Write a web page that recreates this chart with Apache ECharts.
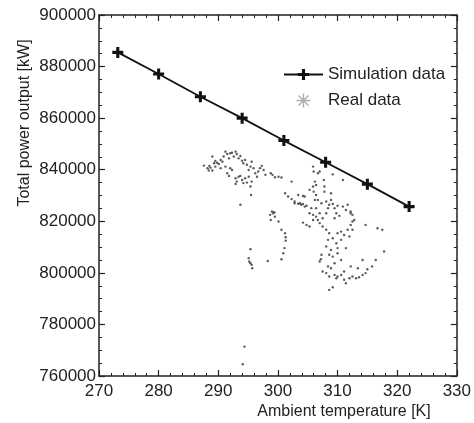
<!DOCTYPE html>
<html>
<head>
<meta charset="utf-8">
<script src="https://cdn.jsdelivr.net/npm/echarts@6/dist/echarts.min.js"></script>
<style>html,body{margin:0;padding:0;background:#fff;}#c{width:474px;height:423px;}</style>
</head>
<body>
<div id="c"></div>
<script>
// ---- data ----
const xTicks = [270, 280, 290, 300, 310, 320, 330];
const yTicks = [760000, 780000, 800000, 820000, 840000, 860000, 880000, 900000];
const simTemp = [273.15, 280, 287, 294, 301, 308, 315, 322];
const simPower = [885500, 877100, 868300, 860000, 851300, 842900, 834400, 825700];
const realTemp = [
287.6,288.2,288.4,288.7,289.0,289.3,289.5,289.8,290.1,290.4,290.7,290.9,291.2,291.5,291.8,292.0,292.3,292.6,292.9,293.1,
293.4,293.7,294.0,294.2,294.5,294.8,295.1,295.4,295.6,295.9,296.2,296.5,296.7,297.0,297.3,297.6,297.9,291.5,291.8,292.3,
292.9,293.1,293.4,293.7,294.0,294.2,294.5,294.8,295.1,295.4,295.6,292.9,292.0,291.2,290.4,289.5,289.0,288.5,293.7,295.5,
298.8,299.1,299.5,300.1,300.6,302.3,
301.2,301.7,302.3,302.8,303.4,303.9,304.5,
298.7,299.0,299.2,299.5,298.8,299.4,
300.1,300.6,301.2,301.3,301.3,301.1,300.9,300.6,298.3,
295.1,295.2,295.4,295.6,295.7,295.4,
294.4,294.1,
305.9,306.0,306.7,307.0,306.2,306.4,305.9,306.0,306.4,307.7,307.8,307.8,309.2,310.9,
303.7,304.2,304.8,305.6,305.3,305.9,306.4,304.2,304.8,305.3,305.9,306.7,307.0,307.5,308.1,308.4,308.6,308.9,309.2,309.5,
310.0,309.8,310.3,310.9,311.4,311.7,312.2,312.5,312.8,306.7,307.3,308.1,306.4,307.0,307.5,308.1,308.6,309.2,309.8,310.0,
310.6,311.1,311.7,312.2,312.5,312.0,311.4,308.4,308.1,308.9,308.6,309.2,309.5,308.9,308.4,308.1,308.6,309.5,309.8,310.0,
310.6,311.1,311.4,312.0,312.5,313.1,313.6,314.2,314.7,315.0,315.8,314.2,316.4,314.7,316.7,317.5,317.8,307.3,307.2,307.0,
308.6,309.2,307.5,311.1,312.2,313.4,310.6,310.0,310.0,312.2,312.5,310.6,308.9,309.5,306.2,304.2,302.8,303.4,305.3,304.5
];
const realPower = [
841600,840600,839700,840800,845100,842500,843400,842700,842200,843800,843100,845100,847000,846100,844400,846400,846600,845100,847000,846100,
844400,845300,843500,842500,843800,841900,839900,841200,843100,840600,838600,837300,839300,840600,841500,839900,838000,838600,837600,839900,
836700,835400,837300,837600,836000,834800,836700,835000,837300,833500,835400,834500,840600,841200,840600,841200,839700,841500,826400,830200,
838600,838000,837100,837300,837000,835400,
830900,829600,828600,827700,826800,826400,825700,
822500,823800,823100,821800,820500,823500,
819900,816700,815400,813800,812500,809600,807600,805300,804600,
805700,804400,803700,803100,801800,809200,
771400,764600,
841200,839300,838600,839300,835400,834100,833500,831500,830200,836000,833500,831500,838200,836000,
827000,826700,826000,825100,823100,822500,821800,819500,818600,818000,820500,820500,819300,821200,823100,825100,826400,828300,826700,825100,
826000,823100,822100,825700,824400,826400,823800,822500,820500,828300,827000,827700,825100,823100,818000,816700,815400,813400,811500,809600,
812800,814700,816700,818600,816700,814100,809600,812800,810200,808900,807000,806300,803700,801800,802500,799900,798600,799200,797900,798600,
799200,797300,796000,797900,798600,797900,798300,799200,799900,801400,802500,805000,805000,818600,817300,816700,808300,807000,805300,804400,
793400,794400,800500,800500,802500,801800,805000,807600,815400,823100,819900,816000,830900,821200,828300,829800,827000,830200,832200,829600
];
// ---- build ----
const simData = simTemp.map((t, i) => [t, simPower[i]]);
const realData = realTemp.map((t, i) => [t, realPower[i]]);
const plusPath = 'path://M3.6,0H6.4V3.6H10V6.4H6.4V10H3.6V6.4H0V3.6H3.6Z';
const starPath = 'path://M4.5,0H5.5V10H4.5Z M0,4.5H10V5.5H0Z M1.1,1.8L1.8,1.1L8.9,8.2L8.2,8.9Z M8.2,1.1L8.9,1.8L1.8,8.9L1.1,8.2Z';
const font = 'Liberation Sans, Arial, Helvetica, sans-serif';
const axCol = '#222';
function xAx(pos, showLabel) {
  return {
    type: 'value', position: pos, min: xTicks[0], max: xTicks[xTicks.length - 1], interval: 10,
    axisLine: { show: true, onZero: false, lineStyle: { color: axCol, width: 1.5 } },
    axisTick: { show: true, inside: true, length: 6, lineStyle: { color: axCol, width: 1.2 } },
    minorTick: { show: true, splitNumber: 5, length: 3, lineStyle: { color: axCol, width: 1 } },
    axisLabel: { show: showLabel, color: '#222', fontSize: 17, fontFamily: font, margin: 7 },
    splitLine: { show: false }
  };
}
function yAx(pos, showLabel) {
  return {
    type: 'value', position: pos, min: yTicks[0], max: yTicks[yTicks.length - 1], interval: 20000,
    axisLine: { show: true, onZero: false, lineStyle: { color: axCol, width: 1.5 } },
    axisTick: { show: true, inside: true, length: 6, lineStyle: { color: axCol, width: 1.2 } },
    minorTick: { show: true, splitNumber: 4, length: 3, lineStyle: { color: axCol, width: 1 } },
    axisLabel: { show: showLabel, color: '#222', fontSize: 17, fontFamily: font, margin: 3,
      formatter: v => String(v) },
    splitLine: { show: false }
  };
}
const chart = echarts.init(document.getElementById('c'), null, { renderer: 'canvas' });
chart.setOption({
  animation: false,
  backgroundColor: '#fff',
  grid: { left: 99, right: 14, top: 15, bottom: 47, containLabel: false },
  xAxis: [xAx('bottom', true), xAx('top', false)],
  yAxis: [yAx('left', true), yAx('right', false)],
  legend: {
    orient: 'vertical', left: 278, top: 61, itemWidth: 39, itemHeight: 14, itemGap: 9,
    textStyle: { color: '#222', fontSize: 17, fontFamily: font },
    data: [
      { name: 'Simulation data' },
      { name: 'Real data', icon: starPath, itemStyle: { color: '#999' } }
    ]
  },
  graphic: [
    { type: 'text', x: 25, y: 123, rotation: Math.PI / 2,
      style: { text: 'Total power output [kW]', fill: '#222', font: '16px ' + font, align: 'center', verticalAlign: 'middle' } },
    { type: 'text', x: 344, y: 412,
      style: { text: 'Ambient temperature [K]', fill: '#222', font: '16px ' + font, align: 'center', verticalAlign: 'middle' } }
  ],
  series: [
    {
      name: 'Simulation data', type: 'line', data: simData, xAxisIndex: 0, yAxisIndex: 0,
      symbol: plusPath, symbolSize: 11, showSymbol: true,
      lineStyle: { color: '#111', width: 1.8 },
      itemStyle: { color: '#111' }, z: 3
    },
    {
      name: 'Real data', type: 'scatter', data: realData, xAxisIndex: 0, yAxisIndex: 0,
      symbol: 'circle', symbolSize: 2.4,
      itemStyle: { color: '#333' }, z: 2
    }
  ]
});
</script>
</body>
</html>
